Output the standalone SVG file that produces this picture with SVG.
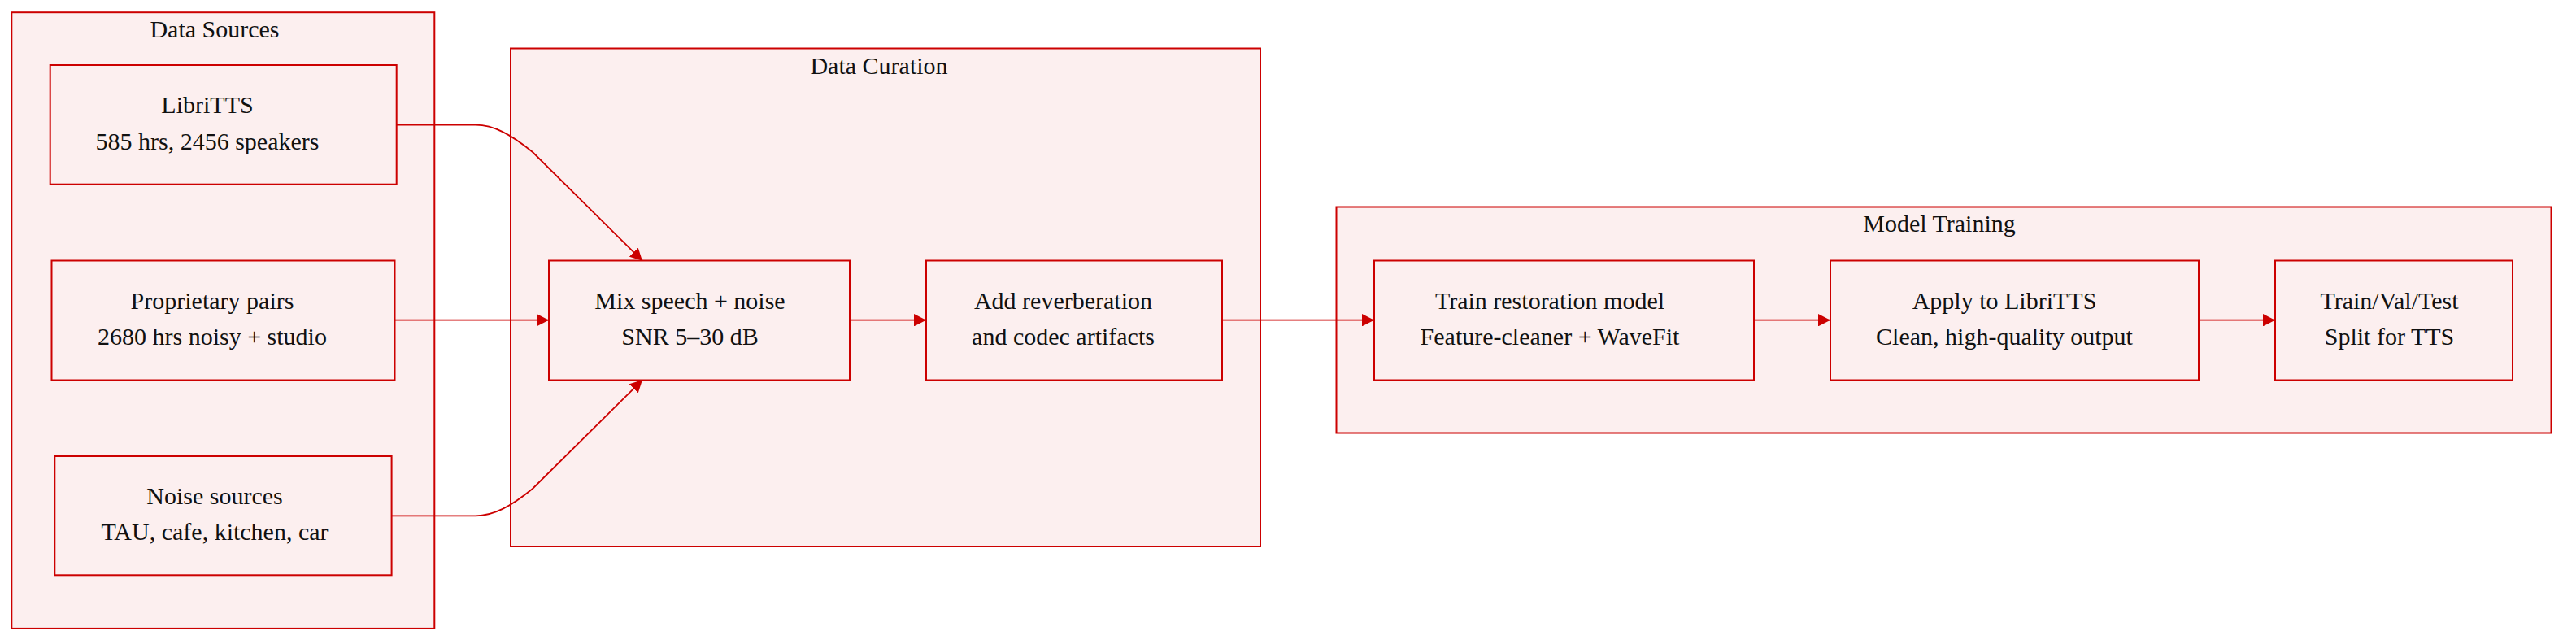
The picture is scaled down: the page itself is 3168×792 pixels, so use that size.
<svg xmlns="http://www.w3.org/2000/svg" width="3168" height="792" viewBox="0 0 3168 792">
<defs>
<style>
.cluster{fill:#fcefef;stroke:#cc0000;stroke-width:2}
.node{fill:#fcefef;stroke:#cc0000;stroke-width:2}
.edge{fill:none;stroke:#cc0000;stroke-width:1.8}
text{font-family:"Liberation Serif","Times New Roman",serif;font-size:30px;fill:#111;text-anchor:middle}
</style>
<marker id="arrow" markerUnits="userSpaceOnUse" viewBox="0 0 15 15.4" refX="15" refY="7.7" markerWidth="15" markerHeight="15.4" orient="auto">
<path d="M0,0 L15,7.7 L0,15.4 z" fill="#cc0000"/>
</marker>
</defs>
<rect width="3168" height="792" fill="#ffffff"/>

<g id="cluster-data-sources">
<rect class="cluster" x="14.3" y="15.2" width="520" height="757.7"/>
<text x="264" y="45.5">Data Sources</text>
</g>
<g id="cluster-data-curation">
<rect class="cluster" x="628" y="59.5" width="922" height="612.5"/>
<text x="1081" y="90.7">Data Curation</text>
</g>
<g id="cluster-model-training">
<rect class="cluster" x="1643.5" y="254.5" width="1494" height="278"/>
<text x="2385" y="285">Model Training</text>
</g>

<g id="connectors">
<path class="edge" d="M487.7,153.7 L585,153.7 C607,153.7 628,165 655,187 L790,320.7" marker-end="url(#arrow)"/>
<path class="edge" d="M485.5,393.7 L675,393.7" marker-end="url(#arrow)"/>
<path class="edge" d="M481.6,634.3 L585,634.3 C607,634.3 628,623 655,601 L790,467.3" marker-end="url(#arrow)"/>
<path class="edge" d="M1045,393.7 L1139,393.7" marker-end="url(#arrow)"/>
<path class="edge" d="M1503,393.7 L1690,393.7" marker-end="url(#arrow)"/>
<path class="edge" d="M2157,393.7 L2251,393.7" marker-end="url(#arrow)"/>
<path class="edge" d="M2704,393.7 L2798,393.7" marker-end="url(#arrow)"/>
</g>

<g id="node-libritts">
<rect class="node" x="61.7" y="80" width="426" height="146.7"/>
<text x="255" y="139">LibriTTS</text>
<text x="255" y="183.5">585 hrs, 2456 speakers</text>
</g>
<g id="node-proprietary">
<rect class="node" x="63.5" y="320.5" width="422" height="147"/>
<text x="261" y="379.5">Proprietary pairs</text>
<text x="261" y="424">2680 hrs noisy + studio</text>
</g>
<g id="node-noise">
<rect class="node" x="67.3" y="561" width="414.3" height="146.3"/>
<text x="264" y="619.5">Noise sources</text>
<text x="264" y="664">TAU, cafe, kitchen, car</text>
</g>
<g id="node-mix">
<rect class="node" x="675" y="320.5" width="370" height="147"/>
<text x="848.5" y="379.5">Mix speech + noise</text>
<text x="848.5" y="424">SNR 5–30 dB</text>
</g>
<g id="node-reverb">
<rect class="node" x="1139" y="320.5" width="364" height="147"/>
<text x="1307.5" y="379.5">Add reverberation</text>
<text x="1307.5" y="424">and codec artifacts</text>
</g>
<g id="node-train">
<rect class="node" x="1690" y="320.5" width="467" height="147"/>
<text x="1906" y="379.5">Train restoration model</text>
<text x="1906" y="424">Feature-cleaner + WaveFit</text>
</g>
<g id="node-apply">
<rect class="node" x="2251" y="320.5" width="453" height="147"/>
<text x="2465" y="379.5">Apply to LibriTTS</text>
<text x="2465" y="424">Clean, high-quality output</text>
</g>
<g id="node-split">
<rect class="node" x="2798" y="320.5" width="292" height="147"/>
<text x="2938.5" y="379.5">Train/Val/Test</text>
<text x="2938.5" y="424">Split for TTS</text>
</g>
</svg>
